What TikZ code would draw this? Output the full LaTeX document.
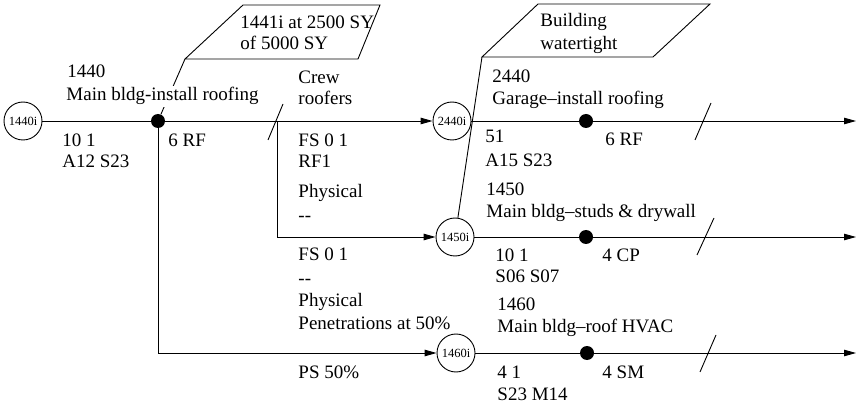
\documentclass[tikz,border=0pt]{standalone}
\usepackage{fontspec}
\setmainfont{Liberation Serif}
\usetikzlibrary{arrows.meta,shapes.geometric}
\begin{document}
\begin{tikzpicture}[x=1pt,y=-1pt,line width=0.9pt,
  lbl/.style={anchor=base west, inner sep=0pt, font=\fontsize{19}{22}\selectfont},
  evt/.style={draw, circle, minimum size=38pt, inner sep=0pt, font=\fontsize{12.5}{14}\selectfont},
  dotn/.style={circle, fill=black, minimum size=14pt, inner sep=0pt},
  arr/.style={-{Triangle[length=12pt,width=6.5pt]}}]
\useasboundingbox (0,0) rectangle (860,406);
% event circles
\node[evt] (c1440) at (23,121) {1440i};
\node[evt] (c2440) at (452,121) {2440i};
\node[evt] (c1450) at (455,237) {1450i};
\node[evt] (c1460) at (456,353) {1460i};
% dots
\node[dotn] (d1440) at (158,121) {};
\node[dotn] (d2440) at (586,121) {};
\node[dotn] (d1450) at (586,237) {};
\node[dotn] (d1460) at (587,353) {};
\coordinate (b1) at (277,121);
\coordinate (e2440) at (856,121);
\coordinate (e1450) at (856,237);
\coordinate (e1460) at (856,353);
% connectors
\draw[arr] (c1440) -- (c2440);
\draw[arr] (d1440.center) |- (c1460);
\draw[arr] (b1) |- (c1450);
\draw[arr] (c2440) -- (e2440);
\draw[arr] (c1450) -- (e1450);
\draw[arr] (c1460) -- (e1460);
% parallelograms
\coordinate (p1a) at (185,59);
\coordinate (p1b) at (243,5);
\coordinate (p1c) at (380,5);
\coordinate (p1d) at (358,59);
\draw (p1a) -- (p1b) -- (p1c) -- (p1d) -- cycle;
\draw (p1a) -- (d1440);
\coordinate (p2a) at (482,57);
\coordinate (p2b) at (538,4);
\coordinate (p2c) at (710,4);
\coordinate (p2d) at (653,57);
\draw (p2a) -- (p2b) -- (p2c) -- (p2d) -- cycle;
\draw (p2a) -- (c1450);
% slashes
\draw (268,140) -- (283,104);
\draw (695,140) -- (711,103);
\draw (697,255) -- (714,218);
\draw (700,372) -- (716,335);
% texts
\node[lbl] (t1) at (240,29) {1441i at 2500 SY};
\node[lbl] (t2) at (240,50) {of 5000 SY};
\node[lbl] (t3) at (540,27) {Building};
\node[lbl] (t4) at (540,50) {watertight};
\node[lbl] (t5) at (67,78) {1440};
\node[lbl, fill=white, inner sep=2pt] (t6) at (64,101) {Main bldg-install roofing};
\node[lbl] (t7) at (62,147) {10 1};
\node[lbl] (t8) at (62,168) {A12 S23};
\node[lbl] (t9) at (168,147) {6 RF};
\node[lbl] (t10) at (298,84) {Crew};
\node[lbl] (t11) at (298,105) {roofers};
\node[lbl] (t12) at (298,147) {FS 0 1};
\node[lbl] (t13) at (298,168) {RF1};
\node[lbl] (t14) at (298,198) {Physical};
\node[lbl] (t15) at (298,222) {-{}-};
\node[lbl] (t16) at (298,261) {FS 0 1};
\node[lbl] (t17) at (298,284) {-{}-};
\node[lbl] (t18) at (298,307) {Physical};
\node[lbl] (t19) at (298,330) {Penetrations at 50\%};
\node[lbl] (t20) at (298,378) {PS 50\%};
\node[lbl] (t21) at (492,83) {2440};
\node[lbl] (t22) at (492,105) {Garage–install roofing};
\node[lbl] (t23) at (485,143) {51};
\node[lbl] (t24) at (485,167) {A15 S23};
\node[lbl] (t25) at (605,146) {6 RF};
\node[lbl] (t26) at (486,196) {1450};
\node[lbl] (t27) at (486,218) {Main bldg–studs \& drywall};
\node[lbl] (t28) at (495,262) {10 1};
\node[lbl] (t29) at (495,283) {S06 S07};
\node[lbl] (t30) at (602,262) {4 CP};
\node[lbl] (t31) at (497,311) {1460};
\node[lbl] (t32) at (497,333) {Main bldg–roof HVAC};
\node[lbl] (t33) at (497,378) {4 1};
\node[lbl] (t34) at (497,400) {S23 M14};
\node[lbl] (t35) at (602,378) {4 SM};
\end{tikzpicture}
\end{document}
